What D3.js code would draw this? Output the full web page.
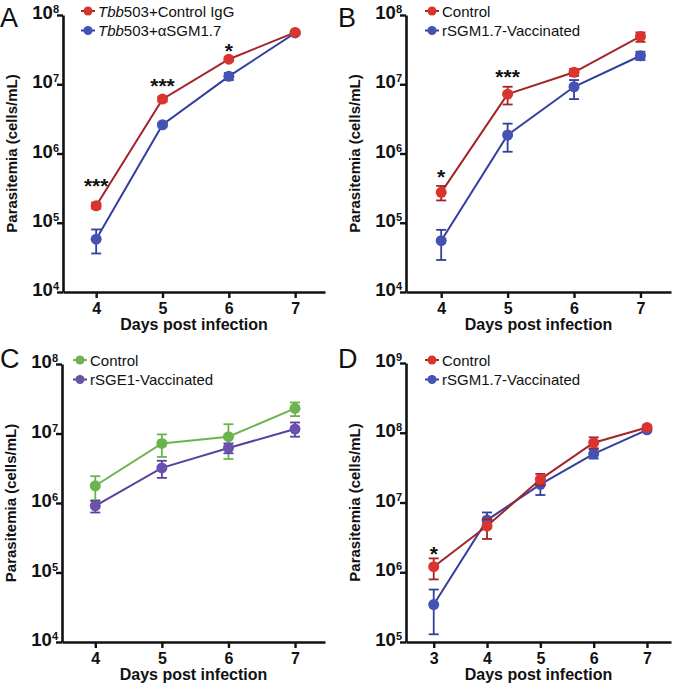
<!DOCTYPE html>
<html>
<head>
<meta charset="utf-8">
<script src="https://cdn.jsdelivr.net/npm/d3@7/dist/d3.min.js"></script>
<style>
  html, body { margin: 0; padding: 0; background: #fff; }
  svg { display: block; }
  text { font-family: "Liberation Sans", Arial, Helvetica, sans-serif; }
</style>
</head>
<body>
<svg id="chart" width="677" height="684"></svg>
<script>
// ---------- DATA ----------
// Panel A
const daysA = [4, 5, 6, 7];
const aControlMean = [1.76e5, 6.1e6, 2.3e7, 5.6e7];
const aControlLow  = [1.6e5, 5.6e6, 2.15e7, 5.3e7];
const aControlHigh = [1.95e5, 6.6e6, 2.45e7, 5.9e7];
const aTreatMean = [5.8e4, 2.6e6, 1.3e7, 5.5e7];
const aTreatLow  = [3.6e4, 2.45e6, 1.15e7, 5.2e7];
const aTreatHigh = [8.0e4, 2.75e6, 1.45e7, 5.8e7];
const aStarDays = [4, 5, 6];
const aStarLevels = [4.0e5, 1.08e7, 3.5e7];
const aStarLabels = ["***", "***", "*"];

// Panel B
const daysB = [4, 5, 6, 7];
const bControlMean = [2.75e5, 7.2e6, 1.49e7, 4.9e7];
const bControlLow  = [2.1e5, 5.1e6, 1.32e7, 4.1e7];
const bControlHigh = [3.4e5, 9.2e6, 1.66e7, 5.6e7];
const bVaccMean = [5.5e4, 1.85e6, 9.2e6, 2.58e7];
const bVaccLow  = [2.9e4, 1.06e6, 6.1e6, 2.24e7];
const bVaccHigh = [7.9e4, 2.7e6, 1.15e7, 2.95e7];
const bStarDays = [4, 5];
const bStarLevels = [5.3e5, 1.5e7];
const bStarLabels = ["*", "***"];

// Panel C
const daysC = [4, 5, 6, 7];
const cControlMean = [1.77e6, 7.2e6, 9.0e6, 2.3e7];
const cControlLow  = [1.1e6, 4.6e6, 4.3e6, 1.78e7];
const cControlHigh = [2.43e6, 9.7e6, 1.36e7, 2.8e7];
const cVaccMean = [9.1e5, 3.2e6, 6.2e6, 1.16e7];
const cVaccLow  = [7.3e5, 2.3e6, 5.2e6, 9.0e6];
const cVaccHigh = [1.07e6, 4.05e6, 7.2e6, 1.44e7];

// Panel D
const daysD = [3, 4, 5, 6, 7];
const dControlMean = [1.2e6, 4.6e6, 2.15e7, 7.2e7, 1.19e8];
const dControlLow  = [7.9e5, 3.0e6, 1.75e7, 6.0e7, 1.12e8];
const dControlHigh = [1.58e6, 5.8e6, 2.57e7, 8.6e7, 1.26e8];
const dVaccMean = [3.44e5, 5.6e6, 1.82e7, 4.98e7, 1.10e8];
const dVaccLow  = [1.29e5, 4.3e6, 1.28e7, 4.27e7, 1.05e8];
const dVaccHigh = [5.65e5, 7.2e6, 2.2e7, 5.8e7, 1.15e8];
const dStarDays = [3];
const dStarLevels = [2.15e6];
const dStarLabels = ["*"];

const yTicksABC = [1e4, 1e5, 1e6, 1e7, 1e8];
const yTicksD = [1e5, 1e6, 1e7, 1e8, 1e9];

// ---------- DRAWING ----------
const svg = d3.select("#chart");
const FONT = '"Liberation Sans", Arial, Helvetica, sans-serif';

function makeSeries(name, days, mean, low, high, dotColor, lineColor, italicPrefix) {
  return { name, italicPrefix, dotColor, lineColor,
    pts: days.map((d, i) => ({ day: d, v: mean[i], lo: low[i], hi: high[i] })) };
}

function drawPanel(cfg) {
  const g = svg.append("g");
  const x = d3.scaleLinear().domain(cfg.xDomain).range([cfg.left, cfg.right]);
  const y = d3.scaleLog().domain(cfg.yDomain).range([cfg.bottom, cfg.top]);

  // axes
  const xAxis = d3.axisBottom(x).tickValues(cfg.days).tickSize(6).tickSizeOuter(0).tickFormat(d3.format("d"));
  const gx = g.append("g").attr("transform", `translate(0,${cfg.bottom})`).call(xAxis);
  gx.select(".domain").attr("stroke", "#111").attr("stroke-width", 2.6);
  gx.selectAll(".tick line").attr("stroke", "#111").attr("stroke-width", 2.4);
  gx.selectAll(".tick text").attr("y", 22).attr("dy", 0)
    .attr("font-family", FONT).attr("font-size", 16).attr("font-weight", "bold").attr("fill", "#111");

  const yAxis = d3.axisLeft(y).tickValues(cfg.yTicks).tickSize(6).tickSizeOuter(0).tickFormat("");
  const gy = g.append("g").attr("transform", `translate(${cfg.left},0)`).call(yAxis);
  gy.select(".domain").attr("stroke", "#111").attr("stroke-width", 2.6);
  gy.selectAll(".tick line").attr("stroke", "#111").attr("stroke-width", 2.4);
  gy.selectAll(".tick").each(function(d) {
    const t = d3.select(this).append("text")
      .attr("x", -4).attr("y", 3.5).attr("text-anchor", "end")
      .attr("font-family", FONT).attr("font-weight", "bold").attr("fill", "#111");
    t.append("tspan").attr("font-size", 18.5).text("10");
    t.append("tspan").attr("font-size", 11).attr("dy", -6).text(String(Math.round(Math.log10(d))));
  });

  // axis titles
  g.append("text")
    .attr("transform", `translate(${cfg.left - 51},${(cfg.top + cfg.bottom) / 2}) rotate(-90)`)
    .attr("text-anchor", "middle").attr("dy", "0.35em")
    .attr("font-family", FONT).attr("font-size", 15).attr("font-weight", "bold").attr("fill", "#111")
    .text("Parasitemia (cells/mL)");
  g.append("text")
    .attr("x", (cfg.left + cfg.right) / 2).attr("y", cfg.bottom + 38)
    .attr("text-anchor", "middle")
    .attr("font-family", FONT).attr("font-size", 16).attr("font-weight", "bold").attr("fill", "#111")
    .text("Days post infection");

  // panel letter
  g.append("text").attr("x", cfg.letterX).attr("y", cfg.letterY)
    .attr("font-family", FONT).attr("font-size", 27).attr("fill", "#111").text(cfg.letter);

  // series (drawn in drawOrder so the right one sits on top)
  const line = d3.line().x(p => x(p.day)).y(p => y(p.v));
  cfg.drawOrder.map(i => cfg.series[i]).forEach(s => {
    const sg = g.append("g");
    sg.append("path").attr("d", line(s.pts)).attr("fill", "none")
      .attr("stroke", s.lineColor).attr("stroke-width", 2);
    sg.selectAll("line.err").data(s.pts).join("line")
      .attr("x1", p => x(p.day)).attr("x2", p => x(p.day))
      .attr("y1", p => y(p.lo)).attr("y2", p => y(p.hi))
      .attr("stroke", s.lineColor).attr("stroke-width", 1.8);
    ["lo", "hi"].forEach(k => {
      sg.selectAll("line.cap" + k).data(s.pts).join("line")
        .attr("x1", p => x(p.day) - 5).attr("x2", p => x(p.day) + 5)
        .attr("y1", p => y(p[k])).attr("y2", p => y(p[k]))
        .attr("stroke", s.lineColor).attr("stroke-width", 1.8);
    });
    sg.selectAll("circle").data(s.pts).join("circle")
      .attr("cx", p => x(p.day)).attr("cy", p => y(p.v)).attr("r", 5.5)
      .attr("fill", s.dotColor);
  });

  // significance stars
  if (cfg.stars) {
    cfg.stars.days.forEach((d, i) => {
      g.append("text").attr("x", x(d)).attr("y", y(cfg.stars.levels[i]) + 11.5)
        .attr("text-anchor", "middle")
        .attr("font-family", FONT).attr("font-size", 21).attr("font-weight", "bold").attr("fill", "#111")
        .text(cfg.stars.labels[i]);
    });
  }

  // legend
  cfg.series.forEach((s, i) => {
    const ly = cfg.legendY + i * 19.5;
    g.append("line").attr("x1", cfg.legendX - 7).attr("x2", cfg.legendX + 7)
      .attr("y1", ly).attr("y2", ly).attr("stroke", s.lineColor).attr("stroke-width", 2);
    g.append("circle").attr("cx", cfg.legendX).attr("cy", ly).attr("r", 4.5).attr("fill", s.dotColor);
    const t = g.append("text").attr("x", cfg.legendX + 10).attr("y", ly + 5.5)
      .attr("font-family", FONT).attr("font-size", 15).attr("fill", "#111");
    if (s.italicPrefix) t.append("tspan").attr("font-style", "italic").text(s.italicPrefix);
    t.append("tspan").text(s.name);
  });
}

const RED_DOT = "#d9342e", RED_LINE = "#a3242a";
const BLUE_DOT = "#4452b3", BLUE_LINE = "#323f9c";
const GREEN = "#6db34d", PURPLE_DOT = "#6a52ab", PURPLE_LINE = "#5b3f9f";

drawPanel({
  letter: "A", letterX: 0, letterY: 27,
  left: 63, right: 325, top: 15, bottom: 292,
  xDomain: [3.5, 7.45], yDomain: [1e4, 1e8], yTicks: yTicksABC, days: daysA,
  legendX: 88, legendY: 11,
  series: [
    makeSeries("503+Control IgG", daysA, aControlMean, aControlLow, aControlHigh, RED_DOT, RED_LINE, "Tbb"),
    makeSeries("503+αSGM1.7", daysA, aTreatMean, aTreatLow, aTreatHigh, BLUE_DOT, BLUE_LINE, "Tbb")
  ],
  drawOrder: [1, 0],
  stars: { days: aStarDays, levels: aStarLevels, labels: aStarLabels }
});
drawPanel({
  letter: "B", letterX: 338, letterY: 27,
  left: 406, right: 671, top: 15, bottom: 292,
  xDomain: [3.47, 7.46], yDomain: [1e4, 1e8], yTicks: yTicksABC, days: daysB,
  legendX: 432, legendY: 11,
  series: [
    makeSeries("Control", daysB, bControlMean, bControlLow, bControlHigh, RED_DOT, RED_LINE),
    makeSeries("rSGM1.7-Vaccinated", daysB, bVaccMean, bVaccLow, bVaccHigh, BLUE_DOT, BLUE_LINE)
  ],
  drawOrder: [1, 0],
  stars: { days: bStarDays, levels: bStarLevels, labels: bStarLabels }
});
drawPanel({
  letter: "C", letterX: 0, letterY: 368,
  left: 62, right: 325, top: 364, bottom: 642,
  xDomain: [3.5, 7.45], yDomain: [1e4, 1e8], yTicks: yTicksABC, days: daysC,
  legendX: 80, legendY: 360,
  series: [
    makeSeries("Control", daysC, cControlMean, cControlLow, cControlHigh, GREEN, GREEN),
    makeSeries("rSGE1-Vaccinated", daysC, cVaccMean, cVaccLow, cVaccHigh, PURPLE_DOT, PURPLE_LINE)
  ],
  drawOrder: [0, 1]
});
drawPanel({
  letter: "D", letterX: 338, letterY: 368,
  left: 406, right: 671, top: 363, bottom: 642,
  xDomain: [2.48, 7.45], yDomain: [1e5, 1e9], yTicks: yTicksD, days: daysD,
  legendX: 432, legendY: 360,
  series: [
    makeSeries("Control", daysD, dControlMean, dControlLow, dControlHigh, RED_DOT, RED_LINE),
    makeSeries("rSGM1.7-Vaccinated", daysD, dVaccMean, dVaccLow, dVaccHigh, BLUE_DOT, BLUE_LINE)
  ],
  drawOrder: [1, 0],
  stars: { days: dStarDays, levels: dStarLevels, labels: dStarLabels }
});
</script>
</body>
</html>
